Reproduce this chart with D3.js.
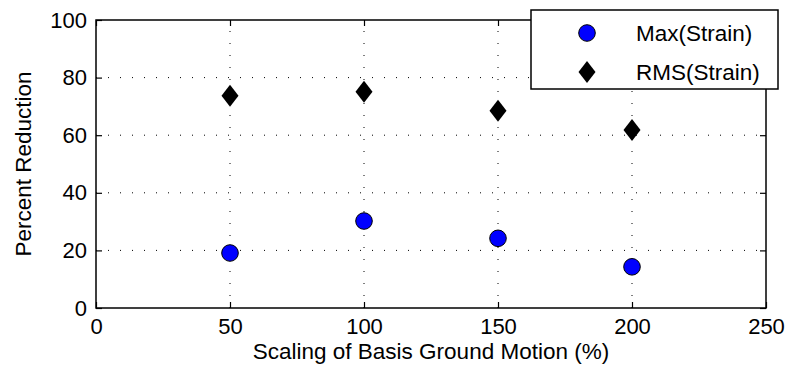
<!DOCTYPE html>
<html>
<head>
<meta charset="utf-8">
<script src="https://cdn.jsdelivr.net/npm/d3@7"></script>
<style>
  body { margin: 0; background: #fff; }
  svg text { font-family: "Liberation Sans", Arial, sans-serif; fill: #000; }
</style>
</head>
<body>
<div id="chart"></div>
<script>
const scaling = [50, 100, 150, 200]
const maxStrain = [19.1, 30.2, 24.2, 14.3]
const rmsStrain = [73.7, 75.1, 68.5, 61.8]
const xTicks = [0, 50, 100, 150, 200, 250]
const yTicks = [0, 20, 40, 60, 80, 100]
const legendLabels = ['Max(Strain)', 'RMS(Strain)']

const width = 786, height = 373
const m = {left: 96, right: 20, top: 20, bottom: 65}
const tickFont = '22px'
const labelFont = '22.5px'

let svg = d3.select('#chart').append('svg')
  .attr('width', width)
  .attr('height', height)

let x = d3.scaleLinear().domain([0, 250]).range([m.left, width - m.right])
let y = d3.scaleLinear().domain([0, 100]).range([height - m.bottom, m.top])

// dotted grid
let grid = svg.append('g')
grid.selectAll('.vg')
  .data(xTicks.slice(1, -1))
  .enter().append('line')
  .attr('x1', d => x(d)).attr('x2', d => x(d))
  .attr('y1', y(0)).attr('y2', y(100))
  .attr('stroke', '#000').attr('stroke-width', 1)
  .attr('stroke-dasharray', '1,11')
grid.selectAll('.hg')
  .data(yTicks.slice(1, -1))
  .enter().append('line')
  .attr('x1', x(0)).attr('x2', x(250))
  .attr('y1', d => y(d)).attr('y2', d => y(d))
  .attr('stroke', '#000').attr('stroke-width', 1)
  .attr('stroke-dasharray', '1,11')

// axes, ticks inward
svg.append('g')
  .attr('transform', `translate(0,${y(0)})`)
  .call(d3.axisBottom(x).tickValues(xTicks).tickSizeInner(-6).tickSizeOuter(0).tickPadding(10))
  .call(g => g.select('.domain').remove())
svg.append('g')
  .attr('transform', `translate(${x(0)},0)`)
  .call(d3.axisLeft(y).tickValues(yTicks).tickSizeInner(-6).tickSizeOuter(0).tickPadding(9))
  .call(g => g.select('.domain').remove())
svg.append('g')
  .attr('transform', `translate(0,${y(100)})`)
  .call(d3.axisTop(x).tickValues(xTicks).tickSizeInner(-6).tickSizeOuter(0).tickFormat(''))
  .call(g => g.select('.domain').remove())
svg.append('g')
  .attr('transform', `translate(${x(250)},0)`)
  .call(d3.axisRight(y).tickValues(yTicks).tickSizeInner(-6).tickSizeOuter(0).tickFormat(''))
  .call(g => g.select('.domain').remove())

svg.selectAll('.tick line').attr('stroke', '#000').attr('stroke-width', 1.2)
svg.selectAll('.tick text').style('font-size', tickFont).attr('fill', '#000')

svg.append('rect')
  .attr('x', x(0)).attr('y', y(100))
  .attr('width', x(250) - x(0)).attr('height', y(0) - y(100))
  .attr('fill', 'none').attr('stroke', '#000').attr('stroke-width', 1.5)

// points
const diamond = (cx, cy) => `M${cx},${cy - 11}L${cx + 8.5},${cy}L${cx},${cy + 11}L${cx - 8.5},${cy}Z`

svg.append('g').selectAll('path')
  .data(scaling)
  .enter().append('path')
  .attr('d', (d, i) => diamond(x(d), y(rmsStrain[i])))
  .attr('fill', '#000')

svg.append('g').selectAll('circle')
  .data(scaling)
  .enter().append('circle')
  .attr('cx', d => x(d))
  .attr('cy', (d, i) => y(maxStrain[i]))
  .attr('r', 8.3)
  .attr('fill', '#0000ff')
  .attr('stroke', '#000')
  .attr('stroke-width', 1)

// axis labels
svg.append('text')
  .attr('x', (x(0) + x(250)) / 2)
  .attr('y', 359)
  .attr('text-anchor', 'middle')
  .style('font-size', labelFont)
  .text('Scaling of Basis Ground Motion (%)')

svg.append('text')
  .attr('transform', `translate(31,${(y(0) + y(100)) / 2}) rotate(-90)`)
  .attr('text-anchor', 'middle')
  .style('font-size', labelFont)
  .text('Percent Reduction')

// legend
let legend = svg.append('g')
legend.append('rect')
  .attr('x', 531).attr('y', 10)
  .attr('width', 247).attr('height', 79)
  .attr('fill', '#fff').attr('stroke', '#000').attr('stroke-width', 1.5)

legend.append('circle')
  .attr('cx', 587).attr('cy', 33).attr('r', 8.3)
  .attr('fill', '#0000ff').attr('stroke', '#000').attr('stroke-width', 1)
legend.append('path')
  .attr('d', diamond(587, 72))
  .attr('fill', '#000')

legend.selectAll('text')
  .data(legendLabels)
  .enter().append('text')
  .attr('x', 636)
  .attr('y', (d, i) => 33 + i * 39)
  .attr('dy', '0.35em')
  .style('font-size', labelFont)
  .text(d => d)
</script>
</body>
</html>
